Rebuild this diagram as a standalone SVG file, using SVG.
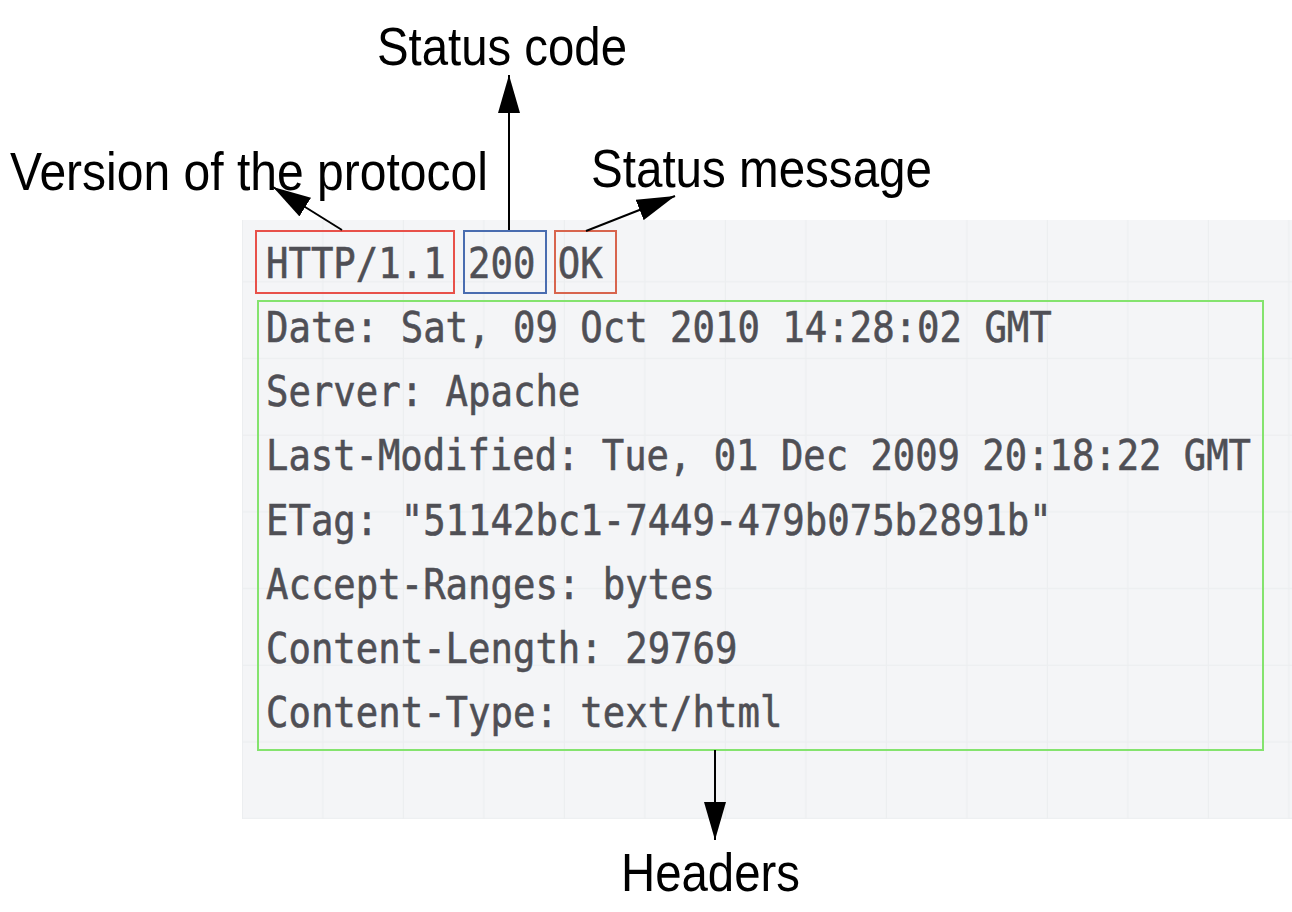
<svg xmlns="http://www.w3.org/2000/svg" width="1292" height="912" viewBox="0 0 1292 912">
<defs>
<marker id="ah" viewBox="0 0 38 22" refX="38" refY="11" markerWidth="38" markerHeight="22" markerUnits="userSpaceOnUse" orient="auto">
<path d="M0,0 L38,11 L0,22 z" fill="#000"/>
</marker>
<pattern id="grid" x="1.5" y="52.3" width="80.5" height="76.7" patternUnits="userSpaceOnUse">
<path d="M80,0 V76.7 M0,76.2 H80.5" stroke="#eceef0" stroke-width="1.5" fill="none"/>
</pattern>
</defs>
<style>
.mono{font-family:"DejaVu Sans Mono","Liberation Mono",monospace;font-size:42px;fill:#4f4f55;stroke:#4f4f55;stroke-width:0.6}
.lbl{font-family:"Liberation Sans",Arial,sans-serif;font-size:53px;fill:#000}
.box{fill:none;stroke-width:2}
.conn{stroke:#000;stroke-width:2;fill:none;marker-end:url(#ah)}
</style>
<rect width="1292" height="912" fill="#fff"/>
<g id="panel">
<rect x="242" y="220" width="1050" height="599" fill="#f4f5f7"/>
<rect x="242" y="220" width="1050" height="599" fill="url(#grid)"/>
</g>
<g id="status-line">
<rect class="box" x="256" y="231" width="198" height="62" stroke="#e8514a"/>
<rect class="box" x="464" y="231" width="82" height="62" stroke="#4a6db0"/>
<rect class="box" x="555" y="231" width="61" height="62" stroke="#d8654e"/>
<text class="mono" x="266" y="278" textLength="336.75" lengthAdjust="spacingAndGlyphs">HTTP/1.1 200 OK</text>
</g>
<g id="headers">
<rect class="box" x="258" y="301" width="1005" height="449" stroke="#84e36e"/>
<text class="mono" x="266" y="342" textLength="785.75" lengthAdjust="spacingAndGlyphs">Date: Sat, 09 Oct 2010 14:28:02 GMT</text>
<text class="mono" x="266" y="406" textLength="314.3" lengthAdjust="spacingAndGlyphs">Server: Apache</text>
<text class="mono" x="266" y="470" textLength="985" lengthAdjust="spacingAndGlyphs">Last-Modified: Tue, 01 Dec 2009 20:18:22 GMT</text>
<text class="mono" x="266" y="535" textLength="785.75" lengthAdjust="spacingAndGlyphs">ETag: "51142bc1-7449-479b075b2891b"</text>
<text class="mono" x="266" y="599" textLength="449" lengthAdjust="spacingAndGlyphs">Accept-Ranges: bytes</text>
<text class="mono" x="266" y="663" textLength="471.45" lengthAdjust="spacingAndGlyphs">Content-Length: 29769</text>
<text class="mono" x="266" y="727" textLength="516.35" lengthAdjust="spacingAndGlyphs">Content-Type: text/html</text>
</g>
<g id="label-version"><text class="lbl" x="10" y="190" textLength="478" lengthAdjust="spacingAndGlyphs">Version of the protocol</text></g>
<g id="label-status-code"><text class="lbl" x="377" y="65" textLength="250" lengthAdjust="spacingAndGlyphs">Status code</text></g>
<g id="label-status-message"><text class="lbl" x="591" y="187" textLength="341" lengthAdjust="spacingAndGlyphs">Status message</text></g>
<g id="label-headers"><text class="lbl" x="621" y="891" textLength="179" lengthAdjust="spacingAndGlyphs">Headers</text></g>
<g id="connectors">
<line class="conn" x1="342" y1="230" x2="273" y2="187"/>
<line class="conn" x1="509" y1="230" x2="509" y2="75"/>
<line class="conn" x1="586" y1="231" x2="675" y2="196"/>
<line class="conn" x1="715" y1="750" x2="715" y2="840"/>
</g>
</svg>
